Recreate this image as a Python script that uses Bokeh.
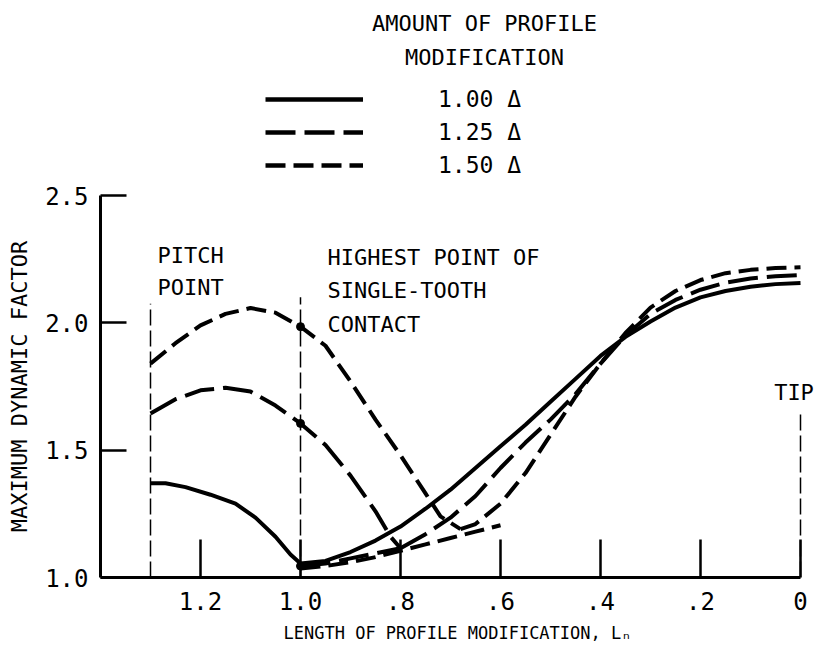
from bokeh.plotting import figure
from bokeh.layouts import column
from bokeh.models import Range1d, FixedTicker, ColumnDataSource, Legend, LegendItem, Label
from bokeh.core.properties import value
from bokeh.embed import file_html
from bokeh.resources import INLINE

FONT = "DejaVu Sans Mono"

# ---------------- data ----------------
# 1.00 delta (solid)
l_100 = [1.30, 1.27, 1.23, 1.18, 1.13, 1.09, 1.05, 1.02, 1.00, 0.95, 0.90, 0.85, 0.80, 0.75, 0.70,
         0.65, 0.60, 0.55, 0.50, 0.45, 0.40, 0.35, 0.30, 0.25, 0.20, 0.15, 0.10, 0.05, 0.00]
f_100 = [1.37, 1.37, 1.355, 1.325, 1.29, 1.235, 1.16, 1.09, 1.055, 1.065, 1.10, 1.145, 1.20, 1.27, 1.345,
         1.43, 1.515, 1.60, 1.69, 1.78, 1.87, 1.945, 2.005, 2.06, 2.10, 2.125, 2.142, 2.152, 2.156]

# 1.25 delta (long dashes): upper branch, lower branch, rising branch
l_125_up = [1.30, 1.25, 1.20, 1.15, 1.10, 1.05, 1.00, 0.95, 0.90, 0.85, 0.82, 0.80]
f_125_up = [1.644, 1.70, 1.735, 1.745, 1.73, 1.675, 1.605, 1.52, 1.40, 1.26, 1.16, 1.115]
l_125_low = [1.00, 0.95, 0.90, 0.85, 0.80]
f_125_low = [1.045, 1.055, 1.075, 1.095, 1.115]
l_125_rise = [0.80, 0.75, 0.70, 0.65, 0.60, 0.55, 0.50, 0.45, 0.40, 0.35, 0.30, 0.25, 0.20,
              0.15, 0.10, 0.05, 0.00]
f_125_rise = [1.115, 1.17, 1.235, 1.32, 1.43, 1.53, 1.62, 1.72, 1.84, 1.95, 2.035, 2.09, 2.13,
              2.158, 2.174, 2.183, 2.188]

# 1.50 delta (short dashes)
l_150_up = [1.30, 1.25, 1.20, 1.15, 1.10, 1.05, 1.00, 0.95, 0.90, 0.85, 0.80, 0.75, 0.72, 0.68]
f_150_up = [1.84, 1.92, 1.99, 2.035, 2.058, 2.04, 1.985, 1.91, 1.77, 1.62, 1.48, 1.33, 1.24, 1.19]
l_150_low = [1.00, 0.95, 0.90, 0.85, 0.80, 0.75, 0.70, 0.65, 0.60]
f_150_low = [1.035, 1.045, 1.06, 1.08, 1.105, 1.13, 1.155, 1.18, 1.205]
l_150_rise = [0.68, 0.65, 0.60, 0.55, 0.50, 0.45, 0.40, 0.35, 0.30, 0.25, 0.20, 0.15, 0.10, 0.05, 0.00]
f_150_rise = [1.19, 1.21, 1.29, 1.41, 1.56, 1.71, 1.84, 1.96, 2.06, 2.125, 2.168, 2.195, 2.208, 2.215, 2.218]

# points marked at the highest point of single-tooth contact
dot_l = [1.0, 1.0, 1.0]
dot_f = [1.985, 1.605, 1.045]

# reference (thin dashed) verticals: pitch point, highest point of single-tooth contact, tip
ref_l = [1.3, 1.0, 0.0]
ref_top = [2.075, 2.10, 1.655]

series_labels = ["1.00 \u0394", "1.25 \u0394", "1.50 \u0394"]
legend_title = ["AMOUNT OF PROFILE", "MODIFICATION"]

x_ticks = [1.2, 1.0, 0.8, 0.6, 0.4, 0.2, 0.0]
x_tick_labels = ["1.2", "1.0", ".8", ".6", ".4", ".2", "0"]
y_ticks = [1.0, 1.5, 2.0, 2.5]
y_tick_labels = ["1.0", "1.5", "2.0", "2.5"]

STYLES = [dict(line_dash="solid"), dict(line_dash="30 9"), dict(line_dash="20 8")]

# ---------------- main figure ----------------
x_range = Range1d(1.4, -0.028)
p = figure(width=814, height=472, x_range=x_range, y_range=Range1d(1.0, 2.5),
           output_backend="svg", toolbar_location=None,
           min_border_left=100, min_border_right=0, min_border_top=15, min_border_bottom=75)
p.outline_line_color = None
p.xgrid.visible = False
p.ygrid.visible = False
p.background_fill_color = "white"

for ax in (p.xaxis[0], p.yaxis[0]):
    ax.axis_line_width = 3
    ax.axis_line_color = "black"
    ax.major_tick_line_width = 2.5
    ax.major_tick_line_color = "black"
    ax.major_tick_out = 0
    ax.minor_tick_line_color = None
    ax.major_label_text_font = FONT
    ax.major_label_text_font_size = "24px"
    ax.major_label_text_color = "black"
    ax.axis_label_text_font = FONT
    ax.axis_label_text_font_style = "normal"
    ax.axis_label_text_color = "black"

xa = p.xaxis[0]
xa.ticker = FixedTicker(ticks=x_ticks, minor_ticks=[])
xa.major_label_overrides = dict(zip(x_ticks, x_tick_labels))
xa.bounds = (0.0, 1.4)
xa.major_tick_in = 38
xa.major_label_standoff = 14
xa.axis_label = "LENGTH OF PROFILE MODIFICATION, L\u2099"
xa.axis_label_text_font_size = "17px"
xa.axis_label_standoff = 10

ya = p.yaxis[0]
ya.ticker = FixedTicker(ticks=y_ticks, minor_ticks=[])
ya.major_label_overrides = dict(zip(y_ticks, y_tick_labels))
ya.bounds = (1.0, 2.5)
ya.major_tick_in = 26
ya.major_label_standoff = 12
ya.axis_label = "MAXIMUM DYNAMIC FACTOR"
ya.axis_label_text_font_size = "22px"
ya.axis_label_standoff = 10

# reference verticals
p.segment(x0=ref_l, y0=[1.0] * len(ref_l), x1=ref_l, y1=ref_top,
          line_color="black", line_width=1.5, line_dash="16 5")

# curves
p.line(l_100, f_100, line_color="black", line_width=4, line_join="round", **STYLES[0])
p.multi_line([l_125_up, l_125_low, l_125_rise], [f_125_up, f_125_low, f_125_rise],
             line_color="black", line_width=4, **STYLES[1])
p.multi_line([l_150_up, l_150_low, l_150_rise], [f_150_up, f_150_low, f_150_rise],
             line_color="black", line_width=4, **STYLES[2])
p.scatter(dot_l, dot_f, size=8, color="black")

# annotation texts inside the plot
ann = ColumnDataSource(dict(
    x=[1.286, 1.286, 0.946, 0.946, 0.946, 0.013],
    y=[2.264, 2.139, 2.256, 2.127, 1.993, 1.726],
    t=["PITCH", "POINT", "HIGHEST POINT OF", "SINGLE-TOOTH", "CONTACT", "TIP"],
    a=["left", "left", "left", "left", "left", "center"]))
p.text(x="x", y="y", text="t", source=ann, text_font=value(FONT), text_font_size="22px",
       text_baseline="middle", text_align="a", text_color="black")

# ---------------- legend strip above the plot ----------------
top = figure(width=814, height=180, x_range=x_range, y_range=Range1d(2.5589, 3.2656),
             output_backend="svg", toolbar_location=None,
             x_axis_location=None, y_axis_location=None,
             min_border_left=100, min_border_right=0, min_border_top=0, min_border_bottom=0)
top.outline_line_color = None
top.xgrid.visible = False
top.ygrid.visible = False

# key renderers carry the same series (they lie below this strip's range, so only the key shows)
key_data = [(l_100, f_100), (l_125_rise, f_125_rise), (l_150_rise, f_150_rise)]
key_renderers = [top.line(x=xs, y=ys, line_color="black", line_width=4.5, **st)
                 for (xs, ys), st in zip(key_data, STYLES)]

for txt, yy in zip(legend_title, (3.175, 3.042)):
    top.add_layout(Label(x=0.632, y=yy, text=txt, text_font=FONT, text_font_size="22px",
                         text_align="center", text_baseline="middle", text_color="black"))

legend = Legend(items=[LegendItem(label=lab, renderers=[r]) for lab, r in zip(series_labels, key_renderers)],
                location=(165, 0), glyph_width=98, glyph_height=30, label_standoff=75,
                spacing=3, padding=0, margin=0, border_line_color=None,
                background_fill_alpha=0, label_text_font=FONT, label_text_font_size="23px",
                label_text_color="black", label_height=30)
top.add_layout(legend)

open("out.html", "w").write(file_html(column(top, p), INLINE))
